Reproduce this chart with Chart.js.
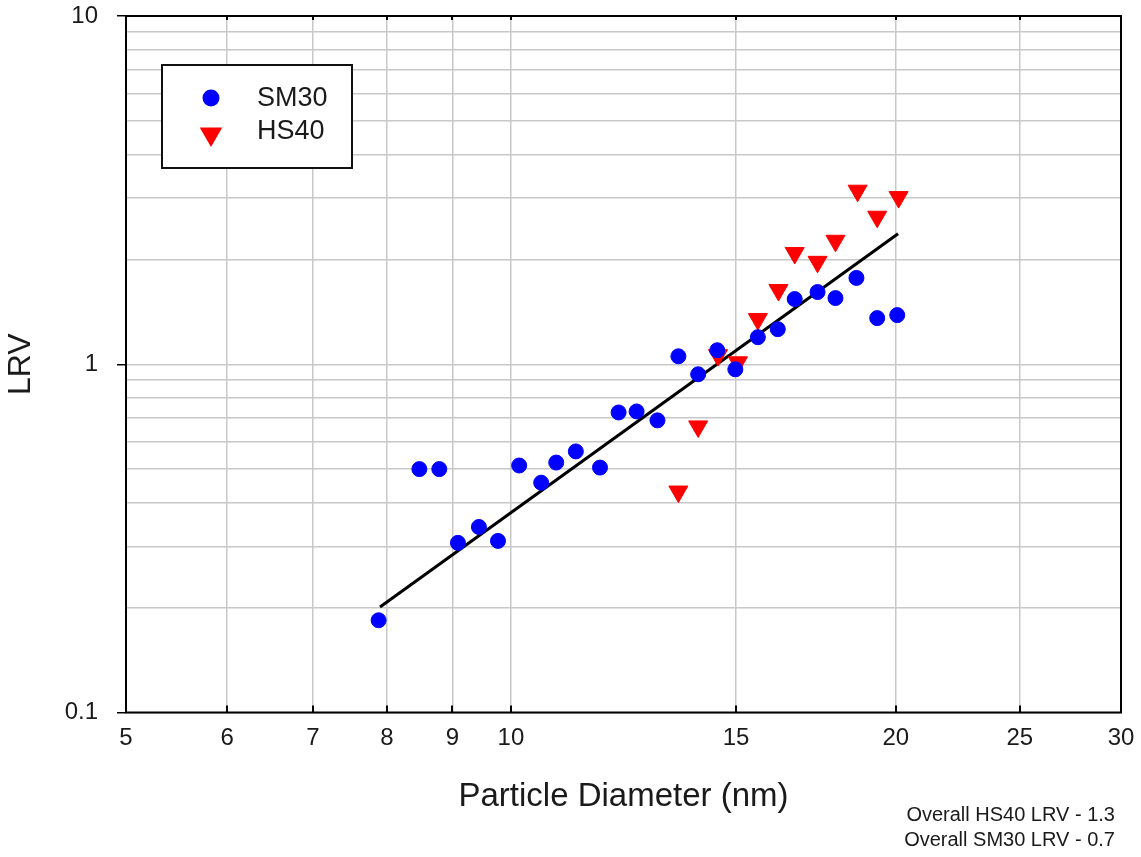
<!DOCTYPE html>
<html>
<head>
<meta charset="utf-8">
<script src="https://cdn.jsdelivr.net/npm/chart.js@4.4.0/dist/chart.umd.min.js"></script>
<style>
  body { margin: 0; background: #fff; }
  #wrap { position: relative; width: 1141px; height: 857px; }
  .note { position: absolute; right: 26px; font: 20px "Liberation Sans", Arial, sans-serif; color: #1a1a1a; }
</style>
</head>
<body>
<div id="wrap">
  <canvas id="lrvChart" width="1141" height="857"></canvas>
  <div class="note" style="top:803px">Overall HS40 LRV - 1.3</div>
  <div class="note" style="top:828px">Overall SM30 LRV - 0.7</div>
</div>
<script>
// SM30 series (particle diameter nm, LRV)
const smX = [7.88, 8.48, 8.79, 9.09, 9.44, 9.77, 10.15, 10.56, 10.85, 11.24, 11.74, 12.14, 12.54,
  13.02, 13.52, 14.01, 14.50, 14.98, 15.6, 16.17, 16.67, 17.37, 17.94, 18.63, 19.34, 20.05];
const smY = [0.184, 0.50, 0.50, 0.307, 0.341, 0.311, 0.512, 0.457, 0.522, 0.562, 0.505, 0.727, 0.732,
  0.690, 1.054, 0.936, 1.097, 0.967, 1.196, 1.261, 1.539, 1.612, 1.549, 1.770, 1.357, 1.384];

// HS40 series
const hsX = [13.52, 14.01, 14.52, 15.05, 15.6, 16.19, 16.67, 17.37, 17.94, 18.67, 19.34, 20.1];
const hsY = [0.431, 0.663, 1.062, 1.013, 1.348, 1.634, 2.087, 1.968, 2.262, 3.15, 2.652, 3.02];

// regression line end points
const fitX = [7.9, 20.08];
const fitY = [0.201, 2.37];

const xTicks = [5, 6, 7, 8, 9, 10, 15, 20, 25, 30];
const yTicks = [0.1, 0.2, 0.3, 0.4, 0.5, 0.6, 0.7, 0.8, 0.9, 1, 2, 3, 4, 5, 6, 7, 8, 9, 10];
const yLabels = [0.1, 1, 10];

const FONT = '"Liberation Sans", Arial, sans-serif';
const toPoints = (xs, ys) => xs.map((x, i) => ({ x: x, y: ys[i] }));

// Box around the plot area, with small inner ticks on top/bottom
const frame = {
  id: "frame",
  beforeDatasetsDraw(chart) {
    const { ctx, chartArea: a } = chart;
    const xScale = chart.scales.x;
    ctx.save();
    ctx.strokeStyle = "#000";
    ctx.lineWidth = 2;
    ctx.strokeRect(a.left, a.top, a.right - a.left, a.bottom - a.top);
    ctx.beginPath();
    xScale.ticks.forEach((t) => {
      const px = Math.round(xScale.getPixelForValue(t.value));
      ctx.moveTo(px, a.bottom);
      ctx.lineTo(px, a.bottom - 7);
      ctx.moveTo(px, a.top);
      ctx.lineTo(px, a.top + 4);
    });
    ctx.stroke();
    ctx.restore();
  },
};

// Boxed legend inside the plot
const boxLegend = {
  id: "boxLegend",
  afterDraw(chart) {
    const ctx = chart.ctx;
    ctx.save();
    ctx.fillStyle = "#fff";
    ctx.fillRect(162, 65, 190, 103);
    ctx.strokeStyle = "#111";
    ctx.lineWidth = 2;
    ctx.strokeRect(162, 65, 190, 103);
    const rows = [{ mark: 98, text: 99 }, { mark: 134, text: 132 }];
    rows.forEach((row, i) => {
      const ds = chart.data.datasets[i];
      ctx.fillStyle = ds.backgroundColor;
      ctx.strokeStyle = ds.borderColor;
      Chart.helpers.drawPoint(ctx, {
        pointStyle: ds.pointStyle,
        radius: ds.pointRadius,
        rotation: ds.pointRotation || 0,
        borderWidth: 1,
      }, 211, row.mark);
      ctx.fillStyle = "#1a1a1a";
      ctx.font = "27px " + FONT;
      ctx.textBaseline = "middle";
      ctx.fillText(ds.label, 257, row.text);
    });
    ctx.restore();
  },
};

new Chart(document.getElementById("lrvChart"), {
  type: "scatter",
  data: {
    datasets: [
      {
        label: "SM30",
        data: toPoints(smX, smY),
        pointStyle: "circle",
        pointRadius: 7.5,
        backgroundColor: "#0000ff",
        borderColor: "#0000ff",
      },
      {
        label: "HS40",
        data: toPoints(hsX, hsY),
        pointStyle: "triangle",
        pointRotation: 180,
        pointRadius: 11,
        backgroundColor: "#ff0000",
        borderColor: "#ff0000",
      },
      {
        label: "fit",
        data: toPoints(fitX, fitY),
        showLine: true,
        pointRadius: 0,
        borderColor: "#000",
        borderWidth: 3,
        order: 1,
      },
    ],
  },
  options: {
    responsive: false,
    animation: false,
    layout: { padding: { left: 0, top: 16, right: 20, bottom: 0 } },
    plugins: { legend: { display: false }, tooltip: { enabled: false } },
    scales: {
      x: {
        type: "logarithmic",
        min: 5,
        max: 30,
        afterBuildTicks: (axis) => { axis.ticks = xTicks.map((v) => ({ value: v })); },
        afterFit: (axis) => {
          axis.height = 144.5;
          axis.paddingLeft = 0;
          axis.paddingRight = 0;
        },
        ticks: {
          autoSkip: false,
          maxRotation: 0,
          padding: 3,
          color: "#1a1a1a",
          font: { family: FONT, size: 24 },
          callback: (v) => String(v),
        },
        grid: { color: "#c8c8c8", lineWidth: 1.5, tickLength: 8, tickColor: "rgba(0,0,0,0)" },
        border: { display: false },
        title: {
          display: true,
          text: "Particle Diameter (nm)",
          color: "#1a1a1a",
          font: { family: FONT, size: 33 },
          padding: { top: 4, bottom: 40 },
        },
      },
      y: {
        type: "logarithmic",
        min: 0.1,
        max: 10,
        afterBuildTicks: (axis) => { axis.ticks = yTicks.map((v) => ({ value: v })); },
        afterFit: (axis) => {
          axis.width = 126;
          axis.paddingTop = 0;
          axis.paddingBottom = 0;
        },
        ticks: {
          autoSkip: false,
          padding: 19,
          color: "#1a1a1a",
          font: { family: FONT, size: 24 },
          callback: (v) => (yLabels.includes(v) ? String(v) : ""),
        },
        grid: {
          color: "#c8c8c8",
          lineWidth: 1.5,
          tickLength: 9,
          tickColor: (c) => (c.tick && yLabels.includes(c.tick.value) ? "#000" : "rgba(0,0,0,0)"),
        },
        border: { display: false },
        title: {
          display: true,
          text: "LRV",
          color: "#1a1a1a",
          font: { family: FONT, size: 32 },
          padding: { top: 2, bottom: 2 },
        },
      },
    },
  },
  plugins: [frame, boxLegend],
});
</script>
</body>
</html>
